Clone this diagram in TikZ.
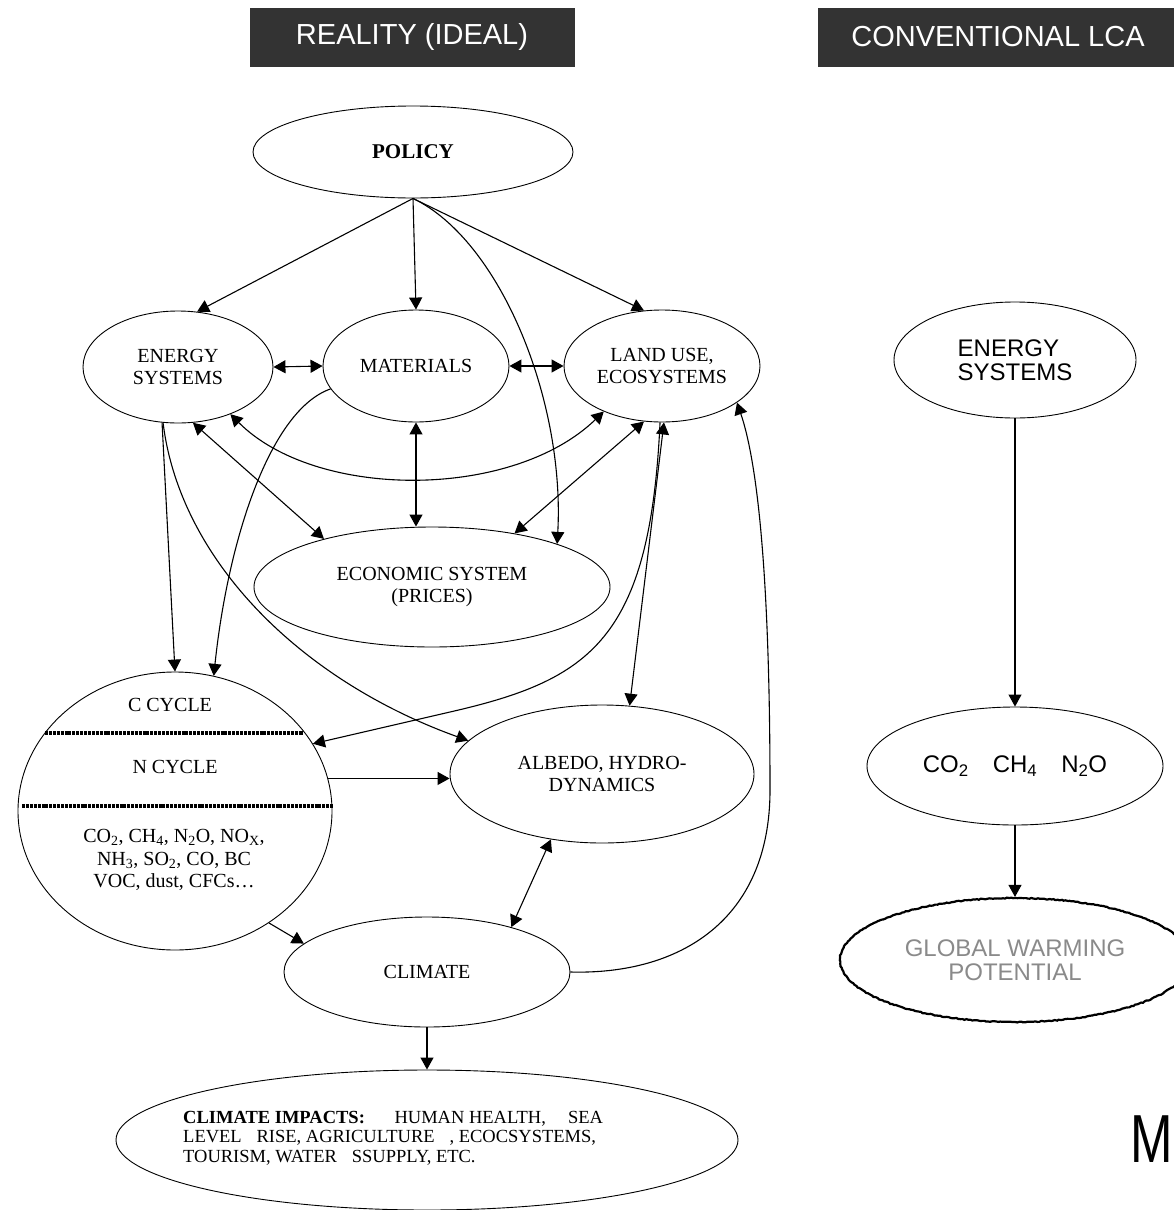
\documentclass[tikz,border=0pt]{standalone}
\usepackage{fontspec}
\setmainfont{Liberation Serif}
\setsansfont{Liberation Sans}
\usetikzlibrary{arrows.meta,shapes.geometric,decorations.pathmorphing,positioning}
\definecolor{hdrgray}{HTML}{333333}
\definecolor{gwpgray}{HTML}{8A8A8A}

\begin{document}
\begin{tikzpicture}[x=1pt,y=-1pt,
	oval/.style={draw,ellipse,inner sep=0pt,line width=0.9pt,align=center,font=\fontsize{20}{21.5}\selectfont},
	lca/.style={draw,ellipse,inner sep=0pt,line width=0.9pt,font=\sffamily\fontsize{24}{24}\selectfont},
	arr/.style={line width=1.1pt,-{Triangle[length=12pt,width=13pt]}},
	dbl/.style={line width=1.1pt,{Triangle[length=12pt,width=13pt]}-{Triangle[length=12pt,width=13pt]}},
	hdr/.style={fill=hdrgray,text=white,inner sep=0pt,minimum height=59pt,font=\sffamily\fontsize{29}{29}\selectfont},
	sep/.style={line width=3.5pt,dash pattern=on 3pt off 0.9pt}]
			
			\useasboundingbox (0,0) rectangle (1173,1210);
			
			% headers
			\node[hdr,minimum width=325pt] (hreal) at (412,37) {REALITY (IDEAL)};
			\node[hdr,minimum width=360pt] (hlca) at (998,37) {CONVENTIONAL LCA};
			
			% reality (ideal)
			\node[oval,minimum width=320pt,minimum height=92pt,font=\bfseries\fontsize{21}{21}\selectfont] (pol) at (413,152) {POLICY};
			\node[oval,minimum width=190pt,minimum height=112pt] (en) at (178,367) {ENERGY\\SYSTEMS};
			\node[oval,minimum width=186pt,minimum height=112pt] (mat) at (416,366) {MATERIALS};
			\node[oval,minimum width=196pt,minimum height=112pt] (land) at (662,366) {LAND USE,\\ECOSYSTEMS};
			\node[oval,minimum width=356pt,minimum height=120pt] (eco) at (432,587) {ECONOMIC SYSTEM\\(PRICES)};
			\node[oval,minimum width=314pt,minimum height=278pt] (cyc) at (175,811) {};
			\node[oval,minimum width=304pt,minimum height=138pt] (alb) at (602,774) {ALBEDO, HYDRO-\\DYNAMICS};
			\node[oval,minimum width=286pt,minimum height=110pt] (clim) at (427,972) {CLIMATE};
			\node[oval,minimum width=622pt,minimum height=140pt] (imp) at (427,1140) {};
			
			\node[font=\fontsize{20}{20}\selectfont] (ccyc) at (170,705) {C CYCLE};
			\node[font=\fontsize{20}{20}\selectfont] (ncyc) at (175,767) {N CYCLE};
			\node[font=\fontsize{20}{22.5}\selectfont,align=center] (gases) at (174,860) {CO\textsubscript{2}, CH\textsubscript{4}, N\textsubscript{2}O, NO\textsubscript{X},\\NH\textsubscript{3}, SO\textsubscript{2}, CO, BC\\VOC, dust, CFCs\ldots};
			\draw[sep] (45,733) -- (303,733);
			\draw[sep] (22,806) -- (333,806);
			
			\node[font=\fontsize{18.5}{19.5}\selectfont,align=left,anchor=west,inner sep=0pt] (imptxt) at (183,1138) {\textbf{CLIMATE IMPACTS:}\hspace{1.6em}HUMAN HEALTH,\hspace{1.2em}SEA\\LEVEL\hspace{0.8em}RISE, AGRICULTURE\hspace{0.8em}, ECOCSYSTEMS,\\TOURISM, WATER\hspace{0.8em}SSUPPLY, ETC.};
			
			\draw[arr] (pol.south) -- (en.71);
			\draw[arr] (pol.south) -- (mat.north);
			\draw[arr] (pol.south) -- (land.108);
			\draw[arr] (pol.south) .. controls (500,240) and (565,400) .. (eco.19);
			\draw[dbl] (en.east) -- (mat.west);
			\draw[dbl] (mat.east) -- (land.west);
			\draw[dbl] (en.-75) -- (eco.156);
			\draw[dbl] (mat.south) -- (mat.south |- eco.north);
			\draw[dbl] (land.-108) -- (eco.33);
			\draw[dbl] (en.-42) .. controls (316,500) and (512,500) .. (land.-142);
			\draw[arr] (en.-106) -- (cyc.north);
			\draw[arr] (mat.-165) .. controls (270,410) and (228,540) .. (cyc.74);
			\draw[arr] (en.-105) .. controls (180,560) and (300,680) .. (alb.166);
			\draw[arr] (land.-92) .. controls (650,640) and (590,680) .. (450,712) -- (cyc.26);
			\draw[dbl] (land.-88) -- (alb.68);
			\draw[arr] (cyc.12) -- (cyc.12 -| alb.west);
			\draw[arr] (cyc.-50) -- (clim.167);
			\draw[dbl] (alb.-128) -- (clim.28);
			\draw[arr] (clim.south) -- (imp.north);
			\draw[arr] (clim.east) .. controls (680,975) and (770,920) .. (770,790) .. controls (770,600) and (760,470) .. (land.-26);
			
			% conventional lca
			\node[lca,align=left,minimum width=242pt,minimum height=116pt] (en2) at (1015,360) {ENERGY\\SYSTEMS};
			\node[lca,minimum width=296pt,minimum height=118pt] (gas2) at (1015,766) {CO\textsubscript{2}\quad CH\textsubscript{4}\quad N\textsubscript{2}O};
			\node[lca,align=center,text=gwpgray,line width=2.2pt,minimum width=350pt,minimum height=124pt,decorate,decoration={random steps,segment length=2pt,amplitude=0.5pt}] (gwp) at (1015,960) {GLOBAL WARMING\\POTENTIAL};
			\draw[arr] (en2.south) -- (gas2.north);
			\draw[arr] (gas2.south) -- (gwp.north);
			
			\node[font=\sffamily\fontsize{68}{68}\selectfont,xscale=0.75,anchor=base west,inner sep=0pt] (mark) at (1130,1162) {M};
			
		\end{tikzpicture}
\end{document}
